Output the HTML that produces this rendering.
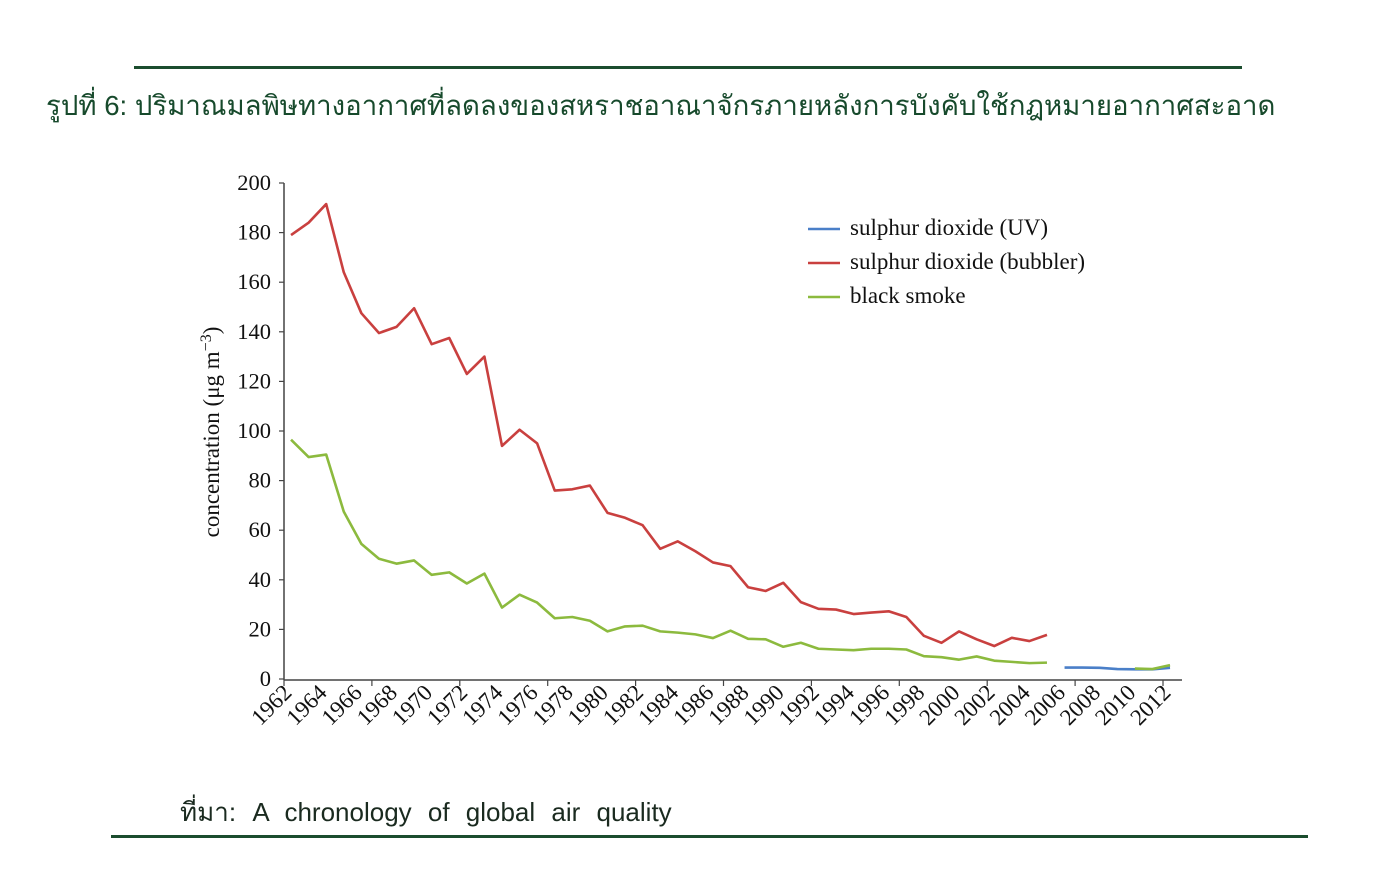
<!DOCTYPE html>
<html><head><meta charset="utf-8"><style>
body{margin:0;width:1380px;height:895px;background:#fff;overflow:hidden;position:relative;font-family:"Liberation Sans","DejaVu Sans",sans-serif}
.rule{position:absolute;height:3px;background:#1b4d2e}
#title{position:absolute;left:46px;top:84px;font-size:27.6px;color:#174a2c;white-space:nowrap}
#source{position:absolute;left:180px;top:792px;font-size:26px;color:#1a2a1f;white-space:nowrap;word-spacing:9px}
</style></head><body>
<div class="rule" style="left:134px;top:66px;width:1108px"></div>
<div id="title">รูปที่ 6: ปริมาณมลพิษทางอากาศที่ลดลงของสหราชอาณาจักรภายหลังการบังคับใช้กฎหมายอากาศสะอาด</div>
<svg id="chart" width="1380" height="895" style="position:absolute;left:0;top:0" font-family="Liberation Serif, serif"></svg>
<div id="source">ที่มา: A chronology of global air quality</div>
<div class="rule" style="left:111px;top:835px;width:1197px"></div>
<script>
const redYears=[1962,1963,1964,1965,1966,1967,1968,1969,1970,1971,1972,1973,1974,1975,1976,1977,1978,1979,1980,1981,1982,1983,1984,1985,1986,1987,1988,1989,1990,1991,1992,1993,1994,1995,1996,1997,1998,1999,2000,2001,2002,2003,2004,2005];
const redValues=[179,184,191.5,164,147.5,139.5,142,149.5,135,137.5,123,130,94,100.5,95,76,76.5,78,67,65,62,52.5,55.5,51.5,47,45.5,37,35.5,38.8,31,28.3,28,26.2,26.8,27.3,25,17.4,14.6,19.2,16,13.3,16.6,15.3,17.8];
const greenYears=redYears.slice();
const greenValues=[96.5,89.5,90.5,67.5,54.5,48.5,46.5,47.8,42,43,38.5,42.5,28.8,34,30.8,24.5,25,23.5,19.2,21.2,21.5,19.2,18.7,18,16.5,19.5,16.2,16,13,14.6,12.2,11.9,11.6,12.2,12.2,11.9,9.2,8.8,7.8,9.1,7.4,6.9,6.4,6.6];
const green2Years=[2010,2011,2012];
const green2Values=[4.2,4.0,5.6];
const blueYears=[2006,2007,2008,2009,2010,2011,2012];
const blueValues=[4.6,4.6,4.5,4.0,3.9,3.9,4.5];
const yTicks=[0,20,40,60,80,100,120,140,160,180,200];
const xLabelYears=[1962,1964,1966,1968,1970,1972,1974,1976,1978,1980,1982,1984,1986,1988,1990,1992,1994,1996,1998,2000,2002,2004,2006,2008,2010,2012];
const xMajorTicks=[1962,1967,1972,1977,1982,1987,1992,1997,2002,2007,2012];

const svg=document.getElementById('chart');
const NS='http://www.w3.org/2000/svg';
const yearPx=17.58;
const xAxis=y=>284+(y-1962)*yearPx;
const xData=y=>284+(y-1962+0.4)*yearPx;
const yAxis=v=>679-v*2.48;
function mk(tag,attrs){const e=document.createElementNS(NS,tag);for(const k in attrs)e.setAttribute(k,attrs[k]);svg.appendChild(e);return e;}

let e=mk('line',{x1:284,y1:183,x2:284,y2:680,stroke:'#444','stroke-width':1.5});


e=mk('line',{x1:284,y1:680,x2:1182,y2:680,stroke:'#444','stroke-width':1.5});



yTicks.forEach(v=>{
  const t=mk('line',{x1:279,y1:yAxis(v),x2:284,y2:yAxis(v),stroke:'#444','stroke-width':1.2});
  
  
  const l=mk('text',{x:271,y:yAxis(v)+7,'text-anchor':'end','font-size':22.5,fill:'#111'});
  l.textContent=v;
  
  
});
xMajorTicks.forEach(y=>{
  const t=mk('line',{x1:xAxis(y),y1:680,x2:xAxis(y),y2:686,stroke:'#444','stroke-width':1.2});
  
  
});
xLabelYears.forEach(y=>{
  const x=xAxis(y)+9, yy=694;
  const l=mk('text',{x:x,y:yy,'text-anchor':'end','font-size':23,fill:'#111',transform:`rotate(-45 ${x} ${yy})`});
  l.textContent=y;
  
  
});
const yt=mk('text',{x:219,y:432,'text-anchor':'middle','font-size':23,fill:'#111',transform:'rotate(-90 219 432)'});
yt.innerHTML='concentration (μg m<tspan dy="-8" font-size="16">−3</tspan><tspan dy="8">)</tspan>';



function series(xs,vs,color,name){
  const p=mk('polyline',{points:xs.map((y,i)=>xData(y)+','+yAxis(vs[i])).join(' '),fill:'none',stroke:color,'stroke-width':2.6,'stroke-linejoin':'round'});
  
  
}
series(redYears,redValues,'#c9403f','series-so2-bubbler');
series(greenYears,greenValues,'#8cba3e','series-black-smoke');
series(blueYears,blueValues,'#4a7fc8','series-so2-uv');
series(green2Years,green2Values,'#8cba3e','series-black-smoke-recent');

[['sulphur dioxide (UV)','#4a7fc8',229],['sulphur dioxide (bubbler)','#c9403f',263],['black smoke','#8cba3e',297]].forEach(([t,c,y])=>{
  const g=mk('line',{x1:808,y1:y,x2:840,y2:y,stroke:c,'stroke-width':2.6});
  
  
  const l=mk('text',{x:850,y:y+6,'font-size':23,fill:'#111'});
  l.textContent=t;
  
  
});
</script>
</body></html>
